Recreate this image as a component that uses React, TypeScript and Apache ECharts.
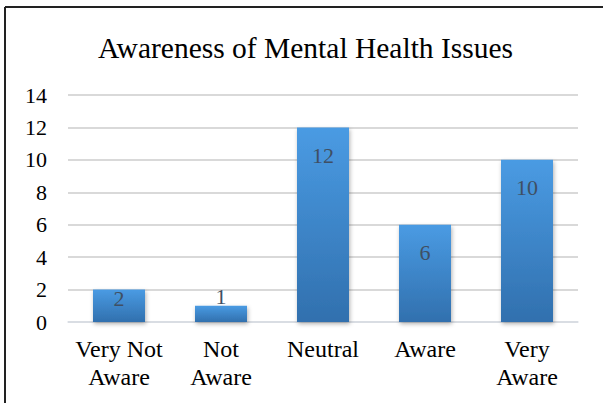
import React, { useEffect, useRef } from "react";
import * as echarts from "echarts";

const categories = ["Very Not\nAware", "Not\nAware", "Neutral", "Aware", "Very\nAware"];
const values = [2, 1, 12, 6, 10];
const yTicks = { min: 0, max: 14, interval: 2 };
const title = "Awareness of Mental Health Issues";

const FONT = "'Liberation Serif', 'Times New Roman', serif";

export default function App() {
  const ref = useRef<HTMLDivElement>(null);
  useEffect(() => {
    if (!ref.current) return;
    const chart = echarts.init(ref.current, undefined, { renderer: "svg" });
    const data = values.map((v) => {
      let label: any;
      if (v >= 4) label = { position: "insideTop", distance: 17 };
      else if (v >= 2) label = { position: "insideTop", distance: -2 };
      else label = { position: "top", distance: -2 };
      return { value: v, label };
    });
    chart.setOption({
      animation: false,
      backgroundColor: "#ffffff",
      title: {
        text: title,
        left: 93,
        top: 28,
        textStyle: { fontFamily: FONT, fontSize: 29.5, fontWeight: "normal", color: "#000000" },
      },
      grid: { left: 68, right: 25, top: 95, bottom: 81, containLabel: false },
      xAxis: {
        type: "category",
        data: categories,
        axisLine: { show: true, lineStyle: { color: "#D9DEE6", width: 1.5 } },
        axisTick: { show: false },
        axisLabel: {
          fontFamily: FONT,
          fontSize: 24,
          color: "#000000",
          lineHeight: 28,
          margin: 13,
          interval: 0,
        },
      },
      yAxis: {
        type: "value",
        min: yTicks.min,
        max: yTicks.max,
        interval: yTicks.interval,
        axisLine: { show: false },
        axisTick: { show: false },
        splitLine: { lineStyle: { color: "#CCCCCC", width: 1.5 } },
        axisLabel: { fontFamily: FONT, fontSize: 22, color: "#000000", margin: 21 },
      },
      series: [
        {
          type: "bar",
          data,
          barWidth: 52,
          itemStyle: {
            color: new echarts.graphic.LinearGradient(0, 0, 0, 1, [
              { offset: 0, color: "#4A9BE3" },
              { offset: 1, color: "#3170AE" },
            ]),
            shadowBlur: 4,
            shadowColor: "rgba(0,0,0,0.3)",
            shadowOffsetX: 1,
            shadowOffsetY: 2,
          },
          label: {
            show: true,
            fontFamily: FONT,
            fontSize: 22,
            color: "#3F4F63",
          },
        },
      ],
      graphic: [
        { type: "line", shape: { x1: 5, y1: 7, x2: 603, y2: 7 }, style: { stroke: "#222222", lineWidth: 2 } },
        { type: "line", shape: { x1: 5, y1: 7, x2: 5, y2: 403 }, style: { stroke: "#222222", lineWidth: 2 } },
      ],
    });
    return () => chart.dispose();
  }, []);
  return (
    <div
      ref={ref}
      style={{ position: "fixed", left: 0, top: 0, width: 603, height: 403, background: "#fff" }}
    />
  );
}
